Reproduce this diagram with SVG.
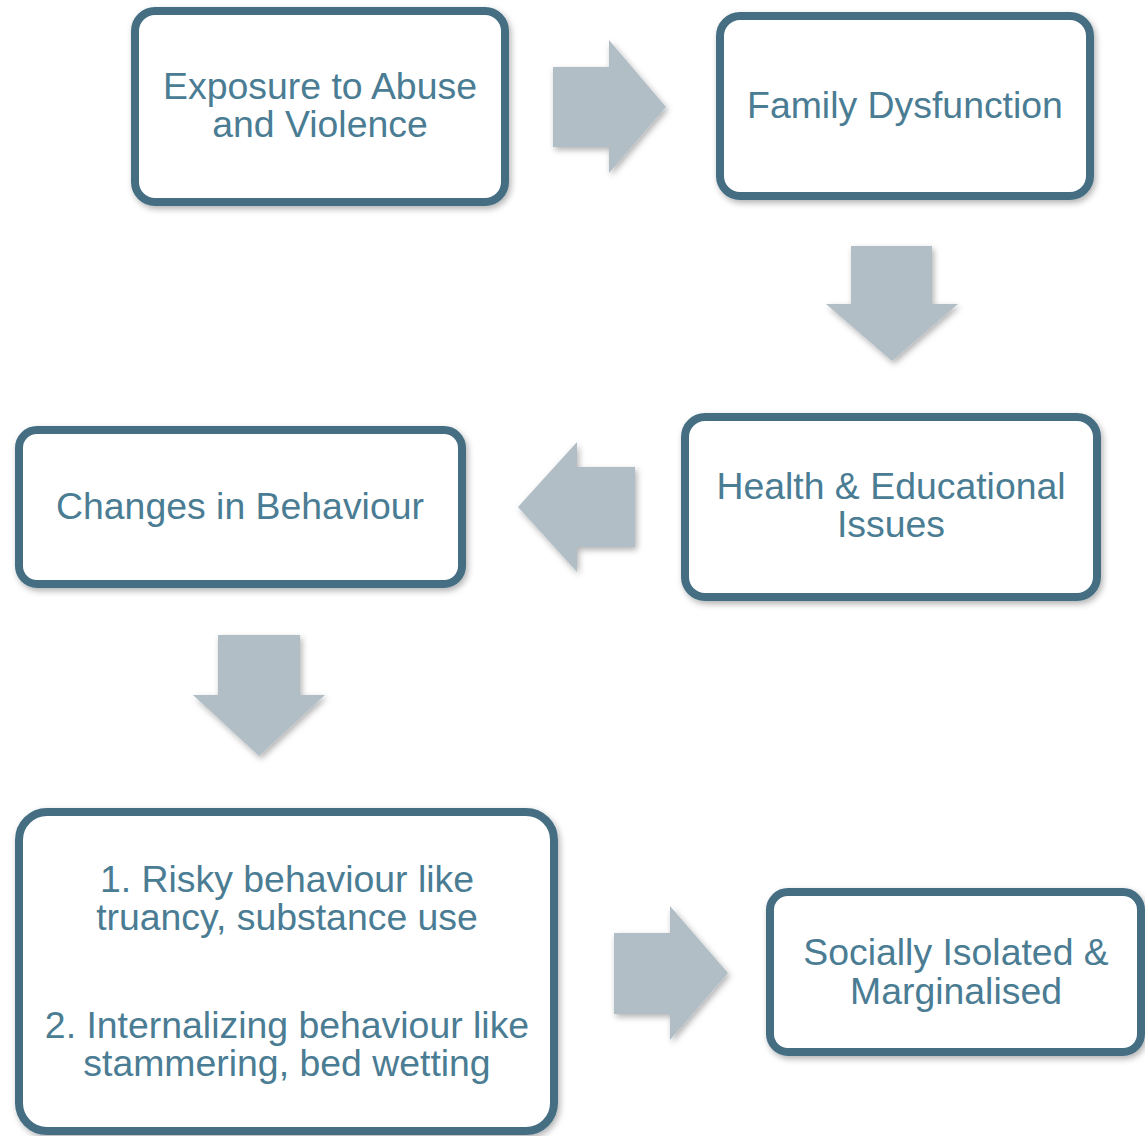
<svg xmlns="http://www.w3.org/2000/svg" width="1145" height="1136" viewBox="0 0 1145 1136">
<defs>
<filter id="sh" x="-10%" y="-10%" width="120%" height="125%">
<feDropShadow dx="2" dy="3" stdDeviation="3" flood-color="#000" flood-opacity="0.3"/>
</filter>
<style>
.box{fill:#fff;stroke:#446e83;stroke-width:8;filter:url(#sh)}
.arr{fill:#b1bec6;filter:url(#sh)}
.t{font-family:"Liberation Sans",Arial,sans-serif;font-size:37.4px;fill:#4a7c93;text-anchor:middle}
</style>
</defs>
<rect width="1145" height="1136" fill="#fff"/>
<g id="connectors">
<polygon class="arr" points="553,67 609,67 609,40 666,107 609,173 609,147 553,147"/>
<polygon class="arr" points="851,246 932,246 932,304 958,304 892,361 826,304 851,304"/>
<polygon class="arr" points="635,467 577,467 577,442 518,507 577,572 577,547 635,547"/>
<polygon class="arr" points="218,635 300,635 300,695 325,695 259,756 193,695 218,695"/>
<polygon class="arr" points="614,933 670,933 670,906 728,973 670,1040 670,1014 614,1014"/>
</g>
<g id="n1">
<rect class="box" x="135" y="11" width="370" height="191" rx="20"/>
<text class="t" x="320" y="99">Exposure to Abuse</text>
<text class="t" x="320" y="137">and Violence</text>
</g>
<g id="n2">
<rect class="box" x="720" y="16" width="370" height="180" rx="20"/>
<text class="t" x="905" y="118">Family Dysfunction</text>
</g>
<g id="n3">
<rect class="box" x="685" y="417" width="412" height="180" rx="20"/>
<text class="t" x="891" y="499">Health &amp; Educational</text>
<text class="t" x="891" y="537">Issues</text>
</g>
<g id="n4">
<rect class="box" x="19" y="430" width="443" height="154" rx="18"/>
<text class="t" x="240" y="519">Changes in Behaviour</text>
</g>
<g id="n5">
<rect class="box" x="19" y="812" width="535" height="319" rx="28"/>
<text class="t" x="287" y="892">1. Risky behaviour like</text>
<text class="t" x="287" y="930">truancy, substance use</text>
<text class="t" x="287" y="1038">2. Internalizing behaviour like</text>
<text class="t" x="287" y="1076">stammering, bed wetting</text>
</g>
<g id="n6">
<rect class="box" x="770" y="892" width="371" height="160" rx="18"/>
<text class="t" x="956" y="965">Socially Isolated &amp;</text>
<text class="t" x="956" y="1004">Marginalised</text>
</g>
</svg>
